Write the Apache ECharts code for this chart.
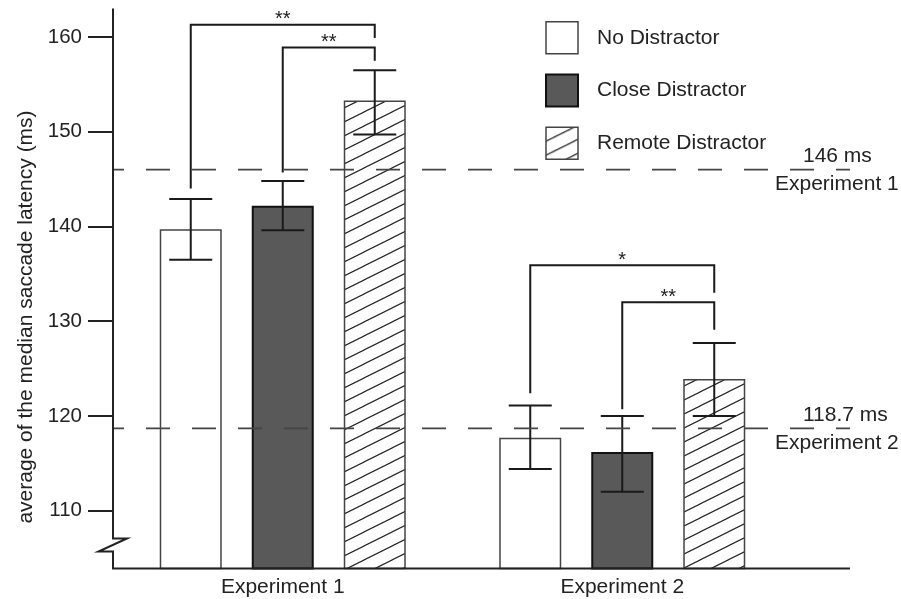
<!DOCTYPE html>
<html><head><meta charset="utf-8">
<script src="https://cdn.jsdelivr.net/npm/echarts@6/dist/echarts.min.js"></script>
<style>html,body{margin:0;padding:0;background:#fff}#c{width:901px;height:599px}</style>
</head><body><div id="c"></div>
<script>
// ---- data ----
const categories = ['Experiment 1', 'Experiment 2'];
const seriesNames = ['No Distractor', 'Close Distractor', 'Remote Distractor'];
const noDistractor = [139.7, 117.7];
const noDistractorHigh = [142.9, 121.1];
const noDistractorLow = [136.5, 114.4];
const closeDistractor = [142.2, 116.2];
const closeDistractorHigh = [144.8, 120.0];
const closeDistractorLow = [139.6, 112.0];
const remoteDistractor = [153.3, 123.9];
const remoteDistractorHigh = [156.5, 127.7];
const remoteDistractorLow = [149.7, 120.0];
const yTicks = [110, 120, 130, 140, 150, 160];
const refValues = [146, 118.7];
const refValueLabels = ['146 ms', '118.7 ms'];
const refNameLabels = ['Experiment 1', 'Experiment 2'];
// [category index, from bar, to bar, left end value, top value, right end value]
const sigBrackets = [
  [0, 0, 2, 144.0, 161.3, 159.9],
  [0, 1, 2, 145.7, 158.9, 157.5],
  [1, 0, 2, 122.4, 135.9, 133.0],
  [1, 1, 2, 120.7, 132.0, 129.1]
];
const sigLabels = ['**', '**', '*', '**'];
const yTitle = 'average of the median saccade latency (ms)';

// ---- style / layout ----
const FONT = '"Liberation Sans", Arial, Helvetica, sans-serif';
const INK = '#222';
const BAR_W = 62, BAR_STEP = 92, CAP = 43;
const GRID_LEFT = 113, AXIS_EXT = 737;

function hatchCanvas() {
  const c = document.createElement('canvas');
  c.width = 28; c.height = 14;
  const g = c.getContext('2d');
  g.fillStyle = '#fff'; g.fillRect(0, 0, 28, 14);
  g.strokeStyle = '#222'; g.lineWidth = 1.15;
  for (const d of [-14, 0, 14]) {
    g.beginPath(); g.moveTo(-2, 15 + d); g.lineTo(30, d - 1); g.stroke();
  }
  return c;
}
const hatch = { image: hatchCanvas(), repeat: 'repeat' };

const barStyles = [
  { color: '#ffffff', borderColor: '#444', borderWidth: 1.5 },
  { color: '#595959', borderColor: '#111', borderWidth: 2 },
  { color: hatch, borderColor: '#444', borderWidth: 1.5 }
];
const values = [noDistractor, closeDistractor, remoteDistractor];
const highs = [noDistractorHigh, closeDistractorHigh, remoteDistractorHigh];
const lows = [noDistractorLow, closeDistractorLow, remoteDistractorLow];

const errData = [];
categories.forEach((c, i) => {
  for (let k = 0; k < 3; k++) errData.push([i, k, lows[k][i], highs[k][i]]);
});

const chart = echarts.init(document.getElementById('c'), null, { renderer: 'canvas' });

const series = seriesNames.map((n, k) => ({
  name: n, type: 'bar', data: values[k], barWidth: BAR_W,
  barGap: ((BAR_STEP - BAR_W) / BAR_W * 100).toFixed(1) + '%',
  itemStyle: barStyles[k], z: 2
}));

series.push({
  type: 'custom', name: 'err', data: errData, z: 5, silent: true,
  encode: { x: 0, y: [2, 3] },
  renderItem: (params, api) => {
    const cat = api.value(0), k = api.value(1);
    const lo = api.coord([cat, api.value(2)]);
    const hi = api.coord([cat, api.value(3)]);
    const x = lo[0] + (k - 1) * BAR_STEP;
    const st = { stroke: '#1a1a1a', lineWidth: 2 };
    return { type: 'group', children: [
      { type: 'line', shape: { x1: x, y1: lo[1], x2: x, y2: hi[1] }, style: st },
      { type: 'line', shape: { x1: x - CAP / 2, y1: hi[1], x2: x + CAP / 2, y2: hi[1] }, style: st },
      { type: 'line', shape: { x1: x - CAP / 2, y1: lo[1], x2: x + CAP / 2, y2: lo[1] }, style: st }
    ]};
  }
});

series.push({
  type: 'custom', name: 'sig', data: sigBrackets, z: 5, silent: true,
  encode: { x: 0, y: 4 },
  renderItem: (params, api) => {
    const cat = api.value(0), a = api.value(1), b = api.value(2);
    const pL = api.coord([cat, api.value(3)]);
    const pT = api.coord([cat, api.value(4)]);
    const pR = api.coord([cat, api.value(5)]);
    const xa = pT[0] + (a - 1) * BAR_STEP, xb = pT[0] + (b - 1) * BAR_STEP;
    return { type: 'group', children: [
      { type: 'polyline', shape: { points: [[xa, pL[1]], [xa, pT[1]], [xb, pT[1]], [xb, pR[1]]] },
        style: { stroke: '#1a1a1a', lineWidth: 2, fill: null } },
      { type: 'text', x: (xa + xb) / 2, y: pT[1] - 5,
        style: { text: sigLabels[params.dataIndex], fill: INK, font: '20px ' + FONT, align: 'center', verticalAlign: 'middle' } }
    ]};
  }
});

chart.setOption({
  animation: false,
  backgroundColor: '#fff',
  grid: { left: GRID_LEFT, right: 109, top: 8.6, bottom: 30.5 },
  legend: {
    data: seriesNames.map((n, k) => ({ name: n, itemStyle: barStyles[k] })),
    left: 545, top: 21, padding: 0, orient: 'vertical', icon: 'rect',
    itemWidth: 32, itemHeight: 32, itemGap: 19, selectedMode: false,
    textStyle: { fontSize: 21, color: INK, fontFamily: FONT, padding: [0, 0, 0, 14] }
  },
  xAxis: {
    type: 'category', data: categories,
    axisLine: { show: false }, axisTick: { show: false },
    axisLabel: { fontSize: 21, color: INK, fontFamily: FONT, margin: 8 }
  },
  yAxis: {
    type: 'value', min: 103.9, max: 163,
    axisLine: { show: false },
    axisTick: { show: true, length: 25, customValues: yTicks, lineStyle: { color: INK, width: 2 } },
    axisLabel: { customValues: yTicks, fontSize: 20.5, color: INK, fontFamily: FONT, margin: 31 },
    splitLine: { show: false }
  },
  series: series
});

// ---- decorations drawn through axis conversion ----
const yTop = chart.convertToPixel({ yAxisIndex: 0 }, 163);
const yBase = chart.convertToPixel({ yAxisIndex: 0 }, 103.9);
const L = GRID_LEFT, R = GRID_LEFT + AXIS_EXT;
const g = [];
g.push({ type: 'polyline', z: 20, shape: { points: [
  [L, yTop], [L, yBase - 30], [L + 14, yBase - 30], [L - 14.5, yBase - 17], [L, yBase - 17], [L, yBase]
] }, style: { stroke: INK, lineWidth: 2, fill: null } });
g.push({ type: 'line', z: 20, shape: { x1: L - 1, y1: yBase, x2: R, y2: yBase }, style: { stroke: INK, lineWidth: 2 } });
refValues.forEach((v, i) => {
  const y = chart.convertToPixel({ yAxisIndex: 0 }, v);
  g.push({ type: 'line', z: 10, shape: { x1: L, y1: y, x2: R, y2: y },
    style: { stroke: '#444', lineWidth: 1.8, lineDash: [24, 22], lineDashOffset: 13 } });
  g.push({ type: 'text', z: 21, x: R - 47, y: y - 13,
    style: { text: refValueLabels[i], fill: INK, font: '21px ' + FONT, align: 'left', verticalAlign: 'middle' } });
  g.push({ type: 'text', z: 21, x: R - 75, y: y + 15,
    style: { text: refNameLabels[i], fill: INK, font: '21px ' + FONT, align: 'left', verticalAlign: 'middle' } });
});
g.push({ type: 'text', z: 21, x: 26, y: 317, rotation: Math.PI / 2,
  style: { text: yTitle, fill: INK, font: '21px ' + FONT, align: 'center', verticalAlign: 'middle' } });
chart.setOption({ graphic: { elements: g } });
</script>
</body></html>
